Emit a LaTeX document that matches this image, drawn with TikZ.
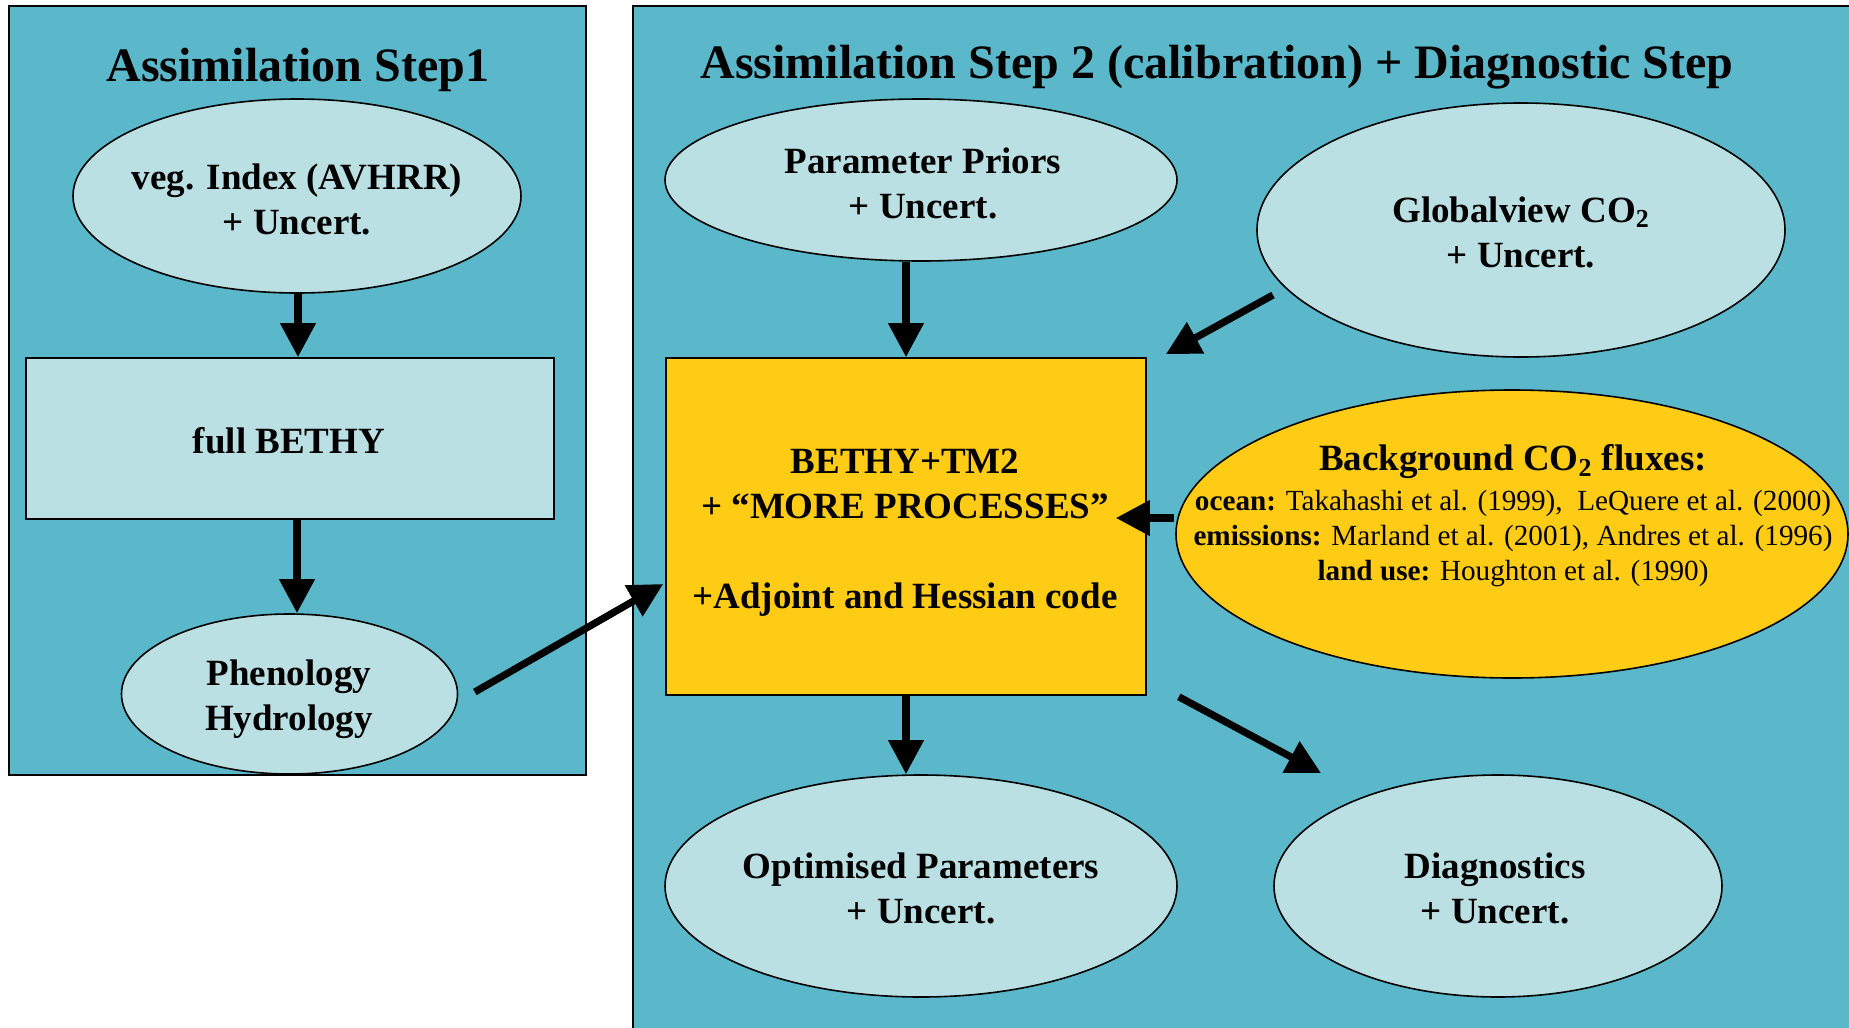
\documentclass[tikz,border=0pt]{standalone}
\usepackage{fontspec}
\setmainfont{Liberation Serif}
\usetikzlibrary{shapes.geometric,arrows.meta,calc}
\definecolor{panelblue}{RGB}{91,184,202}
\definecolor{lightcyan}{RGB}{186,224,228}
\definecolor{boxyellow}{RGB}{255,204,21}
\tikzset{
  panel/.style={draw=black, line width=0.8pt, fill=panelblue},
  lbl/.style={font=\bfseries\fontsize{18.5}{22.5}\selectfont, align=center, inner sep=0pt},
  ell/.style={ellipse, draw=black, line width=0.8pt, fill=lightcyan, inner sep=0pt},
  rectbox/.style={rectangle, draw=black, line width=0.8pt, inner sep=0pt},
  ttl/.style={font=\bfseries\fontsize{24}{28}\selectfont},
  arr/.style={line width=3.6pt, -{Triangle[length=17pt,width=17pt]}}
}
\begin{document}
\begin{tikzpicture}[x=0.5pt,y=-0.5pt]
\path[use as bounding box, clip] (0,0) rectangle (1849,1028);
\fill[white] (0,0) rectangle (1849,1028);
% panels
\draw[panel] (9,6) rectangle (586,775);
\draw[panel] (633,6) rectangle (1870,1050);
\node[ttl] (t1) at (298,70) {Assimilation Step1};
\node[ttl] (t2) at (1217,67) {Assimilation Step 2 (calibration) + Diagnostic Step};
% step 1
\node[ell, minimum width=224pt, minimum height=97pt] (veg) at (297,196) {};
\node[lbl] (vegtxt) at (297,199) {veg. Index (AVHRR)\\+ Uncert.};
\node[rectbox, fill=lightcyan, minimum width=264pt, minimum height=80.5pt] (bethy) at (290,438.5) {};
\node[lbl] (bethytxt) at (289,441) {full BETHY};
\node[ell, minimum width=168pt, minimum height=80pt] (phen) at (289.5,694) {};
\node[lbl] (phentxt) at (289,699) {Phenology\\Hydrology};
% step 2
\node[ell, minimum width=256pt, minimum height=81pt] (priors) at (921,180) {};
\node[lbl] (priorstxt) at (923,183) {Parameter Priors\\+ Uncert.};
\node[ell, minimum width=264pt, minimum height=127pt] (glob) at (1521,230) {};
\node[lbl] (globtxt) at (1521,232) {Globalview CO\textsubscript{2}\\+ Uncert.};
\node[rectbox, fill=boxyellow, minimum width=240pt, minimum height=168.5pt] (box) at (906,526.5) {};
\node[lbl] (boxtxt) at (905,532.5) {BETHY+TM2\\+ “MORE PROCESSES”\\[22.5pt]+Adjoint and Hessian code};
\node[ellipse, draw=black, line width=0.8pt, fill=boxyellow, inner sep=0pt, minimum width=336pt, minimum height=144pt] (bg) at (1512,534) {};
\node[align=center, inner sep=0pt, font=\fontsize{14.6}{17.5}\selectfont] (bgtext) at (1513,516) {{\bfseries\fontsize{18.5}{20}\selectfont Background CO\textsubscript{2} fluxes:}\\[2.5pt]
\textbf{ocean:} Takahashi et al. (1999),\ \ LeQuere et al. (2000)\\
\textbf{emissions:} Marland et al. (2001), Andres et al. (1996)\\
\textbf{land use:} Houghton et al. (1990)};
\node[ell, minimum width=256pt, minimum height=111pt] (opt) at (921,886) {};
\node[lbl] (opttxt) at (921,888.5) {Optimised Parameters\\+ Uncert.};
\node[ell, minimum width=224pt, minimum height=111pt] (diag) at (1498,886) {};
\node[lbl] (diagtxt) at (1495,888.5) {Diagnostics\\+ Uncert.};
% arrows
\draw[arr] ([xshift=0.5pt]veg.south) -- ([xshift=0.5pt]veg.south |- bethy.north);
\draw[arr] ([xshift=3.5pt]bethy.south) -- ([xshift=3.5pt]bethy.south |- phen.north);
\draw[arr] (priors.south -| box.north) -- (box.north);
\draw[arr] (box.south) -- (box.south |- opt.north);
\draw[arr] ($(phen.east)+(16.5,-2)$) -- ($(box.west)+(-2,57.5)$);
\draw[arr] ($(glob.center)+(-248,65)$) -- ($(box.north east)+(19,-3)$);
\draw[arr] ($(bg.west)+(-1,-16)$) -- ($(box.east)+(-31,-8.5)$);
\draw[arr] ($(box.south east)+(32,1)$) -- ($(diag.center)+(-177,-113)$);
\end{tikzpicture}
\end{document}
